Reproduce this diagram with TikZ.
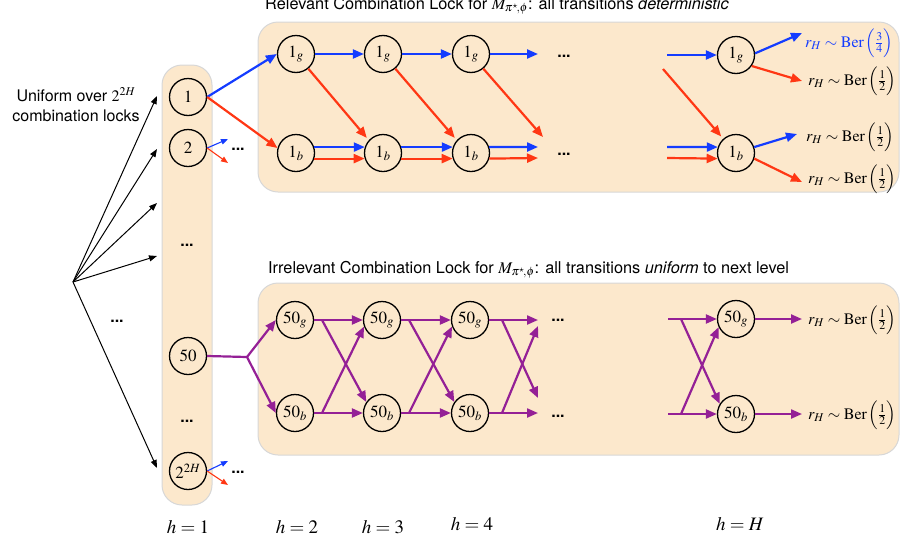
\documentclass[tikz,border=0pt]{standalone}
\usepackage{mathptmx}
\usepackage{fontspec}
\setmainfont{Liberation Serif}
\newfontfamily\hel{TeX Gyre Heros}
\usetikzlibrary{arrows.meta}
\definecolor{peach}{RGB}{252,232,204}
\definecolor{boxgray}{RGB}{215,215,215}
\definecolor{cblue}{RGB}{20,60,255}
\definecolor{cred}{RGB}{255,55,20}
\definecolor{cpurp}{RGB}{148,32,150}
\newcommand{\berlab}[2]{$r_H \sim \mathrm{Ber}\,\Bigl(\frac{#1}{#2}\Bigr)$}
\tikzset{
  st/.style={circle, draw, line width=1.3pt, minimum size=37pt, inner sep=0pt, fill=peach, font=\fontsize{17}{17}\selectfont},
  bx/.style={fill=peach, draw=boxgray, line width=1pt, rounded corners=20pt},
  ba/.style={draw=cblue, line width=2.2pt, -{Triangle[length=11pt,width=9pt]}},
  ra/.style={draw=cred, line width=2.2pt, -{Triangle[length=11pt,width=9pt]}},
  pa/.style={draw=cpurp, line width=2.2pt, -{Triangle[length=11pt,width=9pt]}},
  pl/.style={draw=cpurp, line width=2.2pt},
  ka/.style={draw=black, line width=1pt, -{Triangle[length=8pt,width=6pt]}},
  sba/.style={draw=cblue, line width=1.1pt, -{Triangle[length=7pt,width=5.5pt]}},
  sra/.style={draw=cred, line width=1.1pt, -{Triangle[length=7pt,width=5.5pt]}},
  dd/.style={font=\hel\bfseries\fontsize{16}{16}\selectfont, inner sep=0pt},
  lab/.style={anchor=west, inner sep=0pt, font=\fontsize{16}{16}\selectfont},
  hl/.style={inner sep=0pt, font=\fontsize{19}{19}\selectfont},
  ttl/.style={anchor=west, inner sep=0pt, font=\hel\fontsize{16.3}{16.3}\selectfont},
}
\begin{document}
\begin{tikzpicture}[x=1pt,y=-1pt]
\useasboundingbox (0,0) rectangle (901,544);
% boxes
\draw[bx] (162,65) rectangle (212,505);
\draw[bx] (258,22) rectangle (899,192);
\draw[bx] (258,283) rectangle (899,455);
% titles
\node[ttl] (t1) at (265,6) {Relevant Combination Lock for $M_{\pi^\star\!,\phi}$: all transitions \textit{deterministic}};
\node[ttl] (t2) at (268,270) {Irrelevant Combination Lock for $M_{\pi^\star\!,\phi}$: all transitions \textit{uniform} to next level};
\node[align=center, inner sep=0pt, font=\hel\fontsize{16}{20}\selectfont] (unif) at (76,105) {Uniform over $2^{2H}$\\combination locks};
% left column
\node[st] (n1) at (188,97) {$1$};
\node[st] (n2) at (188,148) {$2$};
\node[dd] (ld1) at (187,245) {...};
\node[st] (n50) at (188,356) {$50$};
\node[dd] (ld2) at (187,421) {...};
\node[st] (nN) at (188,471) {$2^{2H}$};
% source arrows
\coordinate (src) at (73,282);
\coordinate (e1) at (157,96);
\coordinate (e2) at (157,149);
\coordinate (e3) at (157,203);
\coordinate (e4) at (157,256);
\coordinate (e5) at (157,468);
\foreach \e in {e1,e2,e3,e4,e5} \draw[ka] (src) -- (\e);
\node[dd] (ldl) at (117,321) {...};
% small arrows
\coordinate (s2b) at (228,139);
\coordinate (s2r) at (228,163);
\coordinate (sNb) at (228,461);
\coordinate (sNr) at (228,485);
\draw[sba] (n2.east) -- (s2b);
\draw[sra] (n2.east) -- (s2r);
\draw[sba] (nN.east) -- (sNb);
\draw[sra] (nN.east) -- (sNr);
\node[dd] (d2) at (238,149) {...};
\node[dd] (dN) at (238,472) {...};
% top chain
\node[st] (g1) at (296,54) {$1_g$};
\node[st] (g2) at (383,54) {$1_g$};
\node[st] (g3) at (471,54) {$1_g$};
\node[st] (gH) at (736,55) {$1_g$};
\node[st] (b1) at (296,153) {$1_b$};
\node[st] (b2) at (383,153) {$1_b$};
\node[st] (b3) at (471,153) {$1_b$};
\node[st] (bH) at (736,153) {$1_b$};
\node[dd] (dt1) at (564,56) {...};
\node[dd] (dt2) at (564,154) {...};
\draw[ba] (n1.east) -- (g1.west);
\draw[ra] (n1.east) -- (b1.165);
\draw[ba] (g1.east) -- (g2.west);
\draw[ba] (g2.east) -- (g3.west);
\draw[ra, shorten >=3pt] (g1.-50) -- (b2.138);
\draw[ra, shorten >=3pt] (g2.-50) -- (b3.138);
\draw[ba] (b1.18) -- (b2.162);
\draw[ra] (b1.-17) -- (b2.-163);
\draw[ba] (b2.18) -- (b3.162);
\draw[ra] (b2.-17) -- (b3.-163);
\coordinate (g3e) at (538,54);
\coordinate (g3r) at (543,137);
\coordinate (b3b) at (538,147);
\coordinate (b3r) at (538,158);
\draw[ba] (g3.east) -- (g3e);
\draw[ra] (g3.-50) -- (g3r);
\draw[ba] (b3.18) -- (b3b);
\draw[ra] (b3.-17) -- (b3r);
\coordinate (gHi) at (667,55);
\coordinate (bHir) at (663,69);
\coordinate (bHib) at (667,147);
\coordinate (bHirr) at (667,158);
\draw[ba] (gHi) -- (gH.west);
\draw[ra, shorten >=3pt] (bHir) -- (bH.132);
\draw[ba] (bHib) -- (bH.162);
\draw[ra] (bHirr) -- (bH.-163);
\coordinate (o1) at (802,33);
\coordinate (o2) at (802,81);
\coordinate (o3) at (797,134);
\coordinate (o4) at (802,182);
\draw[ba] (gH.5) -- (o1);
\draw[ra] (gH.-35) -- (o2);
\draw[ba] (bH.18) -- (o3);
\draw[ra] (bH.-17) -- (o4);
\node[lab, text=cblue] (L1) at (805,43) {\berlab{3}{4}};
\node[lab] (L2) at (808,81) {\berlab{1}{2}};
\node[lab] (L3) at (806,137) {\berlab{1}{2}};
\node[lab] (L4) at (808,179) {\berlab{1}{2}};
% bottom chain
\node[st] (pg1) at (295,320) {$50_g$};
\node[st] (pg2) at (382,320) {$50_g$};
\node[st] (pg3) at (470,320) {$50_g$};
\node[st] (pgH) at (736,319) {$50_g$};
\node[st] (pb1) at (295,413) {$50_b$};
\node[st] (pb2) at (382,413) {$50_b$};
\node[st] (pb3) at (470,413) {$50_b$};
\node[st] (pbH) at (736,414) {$50_b$};
\node[dd] (dp1) at (558,320) {...};
\node[dd] (dp2) at (558,416) {...};
\coordinate (fk) at (247,357);
\draw[pl] (n50.east) -- (fk);
\draw[pa] (fk) -- (pg1.west);
\draw[pa] (fk) -- (pb1.west);
\coordinate (x1g) at (322,320);
\coordinate (x1b) at (322,413);
\coordinate (x2g) at (409,320);
\coordinate (x2b) at (409,413);
\draw[pa] (pg1.east) -- (pg2.west);
\draw[pa] (pb1.east) -- (pb2.west);
\draw[pa] (x1g) -- (pb2.145);
\draw[pa] (x1b) -- (pg2.-160);
\draw[pa] (pg2.east) -- (pg3.west);
\draw[pa] (pb2.east) -- (pb3.west);
\draw[pa] (x2g) -- (pb3.145);
\draw[pa] (x2b) -- (pg3.-160);
\coordinate (x3g) at (502,320);
\coordinate (x3b) at (502,413);
\coordinate (p3g) at (538,320);
\coordinate (p3b) at (538,413);
\coordinate (p3gd) at (538,398);
\coordinate (p3bu) at (538,326);
\draw[pa] (pg3.east) -- (p3g);
\draw[pa] (pb3.east) -- (p3b);
\draw[pa] (x3g) -- (p3gd);
\draw[pa] (x3b) -- (p3bu);
\coordinate (iHg) at (668,319);
\coordinate (iHb) at (668,414);
\coordinate (xHg) at (681,319);
\coordinate (xHb) at (681,414);
\draw[pa] (iHg) -- (pgH.west);
\draw[pa] (iHb) -- (pbH.west);
\draw[pa] (xHg) -- (pbH.148);
\draw[pa] (xHb) -- (pgH.-155);
\coordinate (oHg) at (802,319);
\coordinate (oHb) at (802,414);
\draw[pa] (pgH.east) -- (oHg);
\draw[pa] (pbH.east) -- (oHb);
\node[lab] (L5) at (808,320) {\berlab{1}{2}};
\node[lab] (L6) at (808,415) {\berlab{1}{2}};
% h labels
\node[hl] (h1) at (188,527) {$h=1$};
\node[hl] (h2) at (297,527) {$h=2$};
\node[hl] (h3) at (383,527) {$h=3$};
\node[hl] (h4) at (472,524) {$h=4$};
\node[hl] (hH) at (740,524) {$h=H$};
\end{tikzpicture}
\end{document}
